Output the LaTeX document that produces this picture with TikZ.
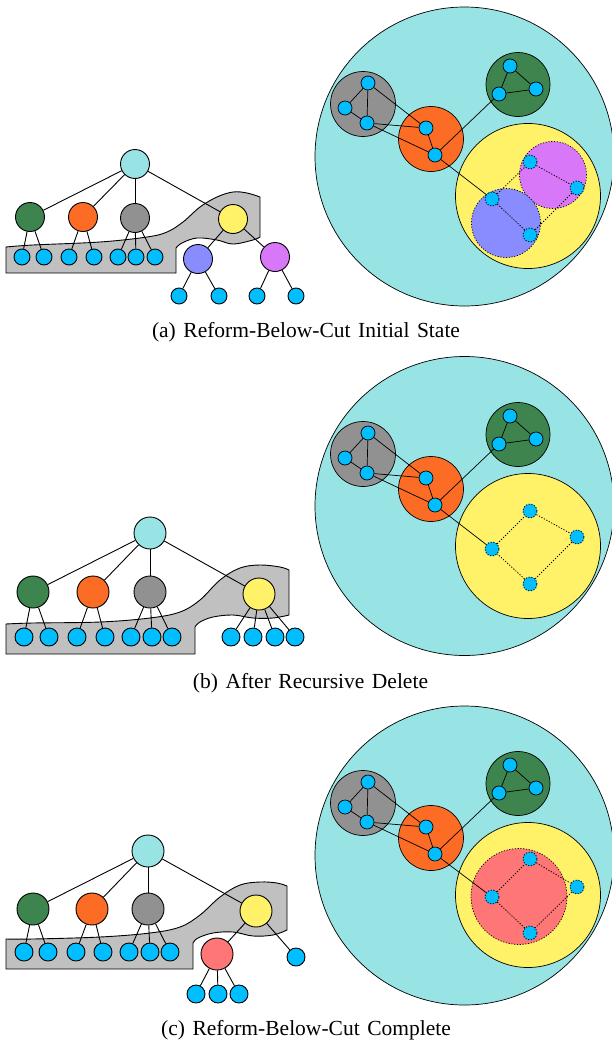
\documentclass[tikz,border=0pt]{standalone}
\usepackage{fontspec}
\setmainfont{Liberation Serif}
\definecolor{clcyan}{RGB}{152,227,227}
\definecolor{clgray}{RGB}{145,145,145}
\definecolor{clorange}{RGB}{252,108,36}
\definecolor{clgreen}{RGB}{61,132,78}
\definecolor{clyellow}{RGB}{255,242,104}
\definecolor{clpurple}{RGB}{216,120,248}
\definecolor{clblue}{RGB}{136,140,255}
\definecolor{clred}{RGB}{255,118,118}
\definecolor{clleaf}{RGB}{0,190,255}
\definecolor{clblob}{RGB}{192,192,192}
\newcommand{\capfont}{\fontsize{21.5}{25}\selectfont\spaceskip 0.35em\relax}

\begin{document}
\begin{tikzpicture}[x=1pt,y=-1pt,
  tnode/.style={circle,draw,line width=0.9pt,inner sep=0pt,minimum size=32pt},
  tleaf/.style={circle,draw,line width=0.9pt,fill=clleaf,inner sep=0pt,minimum size=18pt},
  tedge/.style={line width=0.9pt},
  blob/.style={draw,line width=0.9pt,fill=clblob},
  group/.style={circle,draw,line width=0.7pt,inner sep=0pt},
  dotline/.style={dash pattern=on 1.2pt off 1.6pt},
  vert/.style={circle,draw,line width=0.7pt,fill=clleaf,inner sep=0pt,minimum size=14pt},
  dvert/.style={vert,dotline,line width=0.8pt},
  gedge/.style={line width=0.7pt},
  dedge/.style={line width=0.8pt,dotline},
  capt/.style={anchor=base,font=\capfont}]

\useasboundingbox (0,0) rectangle (612,1044);

%%%%%%%%%%%%%%%%%%%% (a) %%%%%%%%%%%%%%%%%%%%
\begin{scope}[tnode/.append style={minimum size=29pt},tleaf/.append style={minimum size=16pt}]
% Draw the cut region
\draw[blob] (6,247) -- (6,273) -- (176,273) -- plot[smooth,tension=0.6] coordinates {(176,248) (182,243) (197,238) (217,240) (233,244) (253,240) (260,237)}
  -- plot[smooth,tension=0.6] coordinates {(260,197) (247,193) (233,192) (217,197) (200,207) (183,222) (167,232) (147,237) (100,242) (33,245) (6,247)} -- cycle;
% Draw the tree nodes
\node[tnode,fill=clcyan] (roota) at (135,164) {};
\node[tnode,fill=clgreen] (greena) at (30,217) {};
\node[tnode,fill=clorange] (orangea) at (83,217) {};
\node[tnode,fill=clgray] (graya) at (135,218) {};
\node[tnode,fill=clyellow] (yellowa) at (233,219) {};
\node[tnode,fill=clblue] (bluea) at (198,259) {};
\node[tnode,fill=clpurple] (purplea) at (275,257) {};
% Draw the leaves
\node[tleaf] (la1) at (22,257) {};
\node[tleaf] (la2) at (44,257) {};
\node[tleaf] (la3) at (69,257) {};
\node[tleaf] (la4) at (94,257) {};
\node[tleaf] (la5) at (118,257) {};
\node[tleaf] (la6) at (136,257) {};
\node[tleaf] (la7) at (155,257) {};
\node[tleaf] (la8) at (179,296) {};
\node[tleaf] (la9) at (219,296) {};
\node[tleaf] (la10) at (257,296) {};
\node[tleaf] (la11) at (296,296) {};
% Draw the tree edges
\draw[tedge] (roota) -- (greena);
\draw[tedge] (roota) -- (orangea);
\draw[tedge] (roota) -- (graya);
\draw[tedge] (roota) -- (yellowa);
\draw[tedge] (greena) -- (la1);
\draw[tedge] (greena) -- (la2);
\draw[tedge] (orangea) -- (la3);
\draw[tedge] (orangea) -- (la4);
\draw[tedge] (graya) -- (la5);
\draw[tedge] (graya) -- (la6);
\draw[tedge] (graya) -- (la7);
\draw[tedge] (yellowa) -- (bluea);
\draw[tedge] (yellowa) -- (purplea);
\draw[tedge] (bluea) -- (la8);
\draw[tedge] (bluea) -- (la9);
\draw[tedge] (purplea) -- (la10);
\draw[tedge] (purplea) -- (la11);
\end{scope}

% Draw the clusters
\node[group,fill=clcyan,minimum size=299pt] (topa) at (464.5,156.5) {};
\node[group,fill=clgray,minimum size=65pt] (cgraya) at (363,104) {};
\node[group,fill=clorange,minimum size=65pt] (corangea) at (431,139) {};
\node[group,fill=clgreen,minimum size=64pt] (cgreena) at (518,84.5) {};
\node[group,fill=clyellow,minimum size=145pt] (cyellowa) at (528,196) {};
\node[group,dotline,fill=clpurple,minimum size=67pt] (cpurplea) at (553,175) {};
\node[group,dotline,fill=clblue,minimum size=69pt] (cbluea) at (506,223) {};
% Draw the vertices
\node[vert] (g1a) at (368,83) {};
\node[vert] (g2a) at (345,108) {};
\node[vert] (g3a) at (367,123) {};
\node[vert] (o1a) at (426,128) {};
\node[vert] (o2a) at (435,155) {};
\node[vert] (n1a) at (510,66) {};
\node[vert] (n2a) at (536,89) {};
\node[vert] (n3a) at (499,94) {};
\node[dvert] (y1a) at (492,199) {};
\node[dvert] (y2a) at (530,162) {};
\node[dvert] (y3a) at (577,188) {};
\node[dvert] (y4a) at (530,235) {};
% Draw the graph edges
\draw[gedge] (g1a) -- (g2a);
\draw[gedge] (g1a) -- (g3a);
\draw[gedge] (g2a) -- (g3a);
\draw[gedge] (g1a) -- (o1a);
\draw[gedge] (g3a) -- (o1a);
\draw[gedge] (g3a) -- (o2a);
\draw[gedge] (o1a) -- (o2a);
\draw[gedge] (o2a) -- (n3a);
\draw[gedge] (n1a) -- (n2a);
\draw[gedge] (n2a) -- (n3a);
\draw[gedge] (n3a) -- (n1a);
\draw[gedge] (o2a) -- (y1a);
\draw[dedge] (y1a) -- (y2a);
\draw[dedge] (y2a) -- (y3a);
\draw[dedge] (y3a) -- (y4a);
\draw[dedge] (y4a) -- (y1a);

\node[capt] (capa) at (306,337.5) {(a) Reform-Below-Cut Initial State};

%%%%%%%%%%%%%%%%%%%% (b) %%%%%%%%%%%%%%%%%%%%
% Draw the cut region
\draw[blob] (6,624) -- (6,654) -- (195,654) -- plot[smooth,tension=0.6] coordinates {(195,627) (200,622) (213,617) (233,615) (253,618) (273,618) (289,615)}
  -- plot[smooth,tension=0.6] coordinates {(289,570) (280,567) (260,565) (240,568) (220,580) (200,600) (180,612) (150,618) (100,622) (33,623) (6,624)} -- cycle;
% Draw the tree nodes
\node[tnode,fill=clcyan] (rootb) at (150,533) {};
\node[tnode,fill=clgreen] (greenb) at (33,592) {};
\node[tnode,fill=clorange] (orangeb) at (93,592) {};
\node[tnode,fill=clgray] (grayb) at (150,592) {};
\node[tnode,fill=clyellow] (yellowb) at (259,594) {};
% Draw the leaves
\node[tleaf] (lb1) at (24,637) {};
\node[tleaf] (lb2) at (49,637) {};
\node[tleaf] (lb3) at (77,637) {};
\node[tleaf] (lb4) at (105,637) {};
\node[tleaf] (lb5) at (131,637) {};
\node[tleaf] (lb6) at (152,637) {};
\node[tleaf] (lb7) at (172,637) {};
\node[tleaf] (lb8) at (231,637) {};
\node[tleaf] (lb9) at (253,637) {};
\node[tleaf] (lb10) at (275,637) {};
\node[tleaf] (lb11) at (295,637) {};
% Draw the tree edges
\draw[tedge] (rootb) -- (greenb);
\draw[tedge] (rootb) -- (orangeb);
\draw[tedge] (rootb) -- (grayb);
\draw[tedge] (rootb) -- (yellowb);
\draw[tedge] (greenb) -- (lb1);
\draw[tedge] (greenb) -- (lb2);
\draw[tedge] (orangeb) -- (lb3);
\draw[tedge] (orangeb) -- (lb4);
\draw[tedge] (grayb) -- (lb5);
\draw[tedge] (grayb) -- (lb6);
\draw[tedge] (grayb) -- (lb7);
\draw[tedge] (yellowb) -- (lb8);
\draw[tedge] (yellowb) -- (lb9);
\draw[tedge] (yellowb) -- (lb10);
\draw[tedge] (yellowb) -- (lb11);

% Draw the clusters
\node[group,fill=clcyan,minimum size=299pt] (topb) at (464.5,506) {};
\node[group,fill=clgray,minimum size=65pt] (cgrayb) at (363,454) {};
\node[group,fill=clorange,minimum size=65pt] (corangeb) at (431,489) {};
\node[group,fill=clgreen,minimum size=64pt] (cgreenb) at (518,434.5) {};
\node[group,fill=clyellow,minimum size=145pt] (cyellowb) at (528,546) {};
% Draw the vertices
\node[vert] (g1b) at (368,433) {};
\node[vert] (g2b) at (345,458) {};
\node[vert] (g3b) at (367,473) {};
\node[vert] (o1b) at (426,478) {};
\node[vert] (o2b) at (435,505) {};
\node[vert] (n1b) at (510,416) {};
\node[vert] (n2b) at (536,439) {};
\node[vert] (n3b) at (499,444) {};
\node[dvert] (y1b) at (492,549) {};
\node[dvert] (y2b) at (530,511) {};
\node[dvert] (y3b) at (577,537) {};
\node[dvert] (y4b) at (530,584) {};
% Draw the graph edges
\draw[gedge] (g1b) -- (g2b);
\draw[gedge] (g1b) -- (g3b);
\draw[gedge] (g2b) -- (g3b);
\draw[gedge] (g1b) -- (o1b);
\draw[gedge] (g3b) -- (o1b);
\draw[gedge] (g3b) -- (o2b);
\draw[gedge] (o1b) -- (o2b);
\draw[gedge] (o2b) -- (n3b);
\draw[gedge] (n1b) -- (n2b);
\draw[gedge] (n2b) -- (n3b);
\draw[gedge] (n3b) -- (n1b);
\draw[gedge] (o2b) -- (y1b);
\draw[dedge] (y1b) -- (y2b);
\draw[dedge] (y2b) -- (y3b);
\draw[dedge] (y3b) -- (y4b);
\draw[dedge] (y4b) -- (y1b);

\node[capt] (capb) at (310.5,688.7) {(b) After Recursive Delete};

%%%%%%%%%%%%%%%%%%%% (c) %%%%%%%%%%%%%%%%%%%%
% Draw the cut region
\draw[blob] (6,939) -- (6,969) -- (193,969) -- plot[smooth,tension=0.6] coordinates {(193,943) (198,938) (213,933) (233,932) (253,936) (273,935) (287,930)}
  -- plot[smooth,tension=0.6] coordinates {(287,886) (277,883) (260,882) (240,885) (220,897) (200,915) (180,927) (150,933) (100,937) (33,939) (6,939)} -- cycle;
% Draw the tree nodes
\node[tnode,fill=clcyan] (rootc) at (148,851) {};
\node[tnode,fill=clgreen] (greenc) at (33,909) {};
\node[tnode,fill=clorange] (orangec) at (92,909) {};
\node[tnode,fill=clgray] (grayc) at (148,909) {};
\node[tnode,fill=clyellow] (yellowc) at (256,911) {};
\node[tnode,fill=clred] (redc) at (217,954) {};
% Draw the leaves
\node[tleaf] (lc1) at (24,952) {};
\node[tleaf] (lc2) at (48,952) {};
\node[tleaf] (lc3) at (76,952) {};
\node[tleaf] (lc4) at (103,952) {};
\node[tleaf] (lc5) at (129,952) {};
\node[tleaf] (lc6) at (150,952) {};
\node[tleaf] (lc7) at (170,952) {};
\node[tleaf] (lc8) at (196,994) {};
\node[tleaf] (lc9) at (218,994) {};
\node[tleaf] (lc10) at (239,994) {};
\node[tleaf] (lc11) at (296,957) {};
% Draw the tree edges
\draw[tedge] (rootc) -- (greenc);
\draw[tedge] (rootc) -- (orangec);
\draw[tedge] (rootc) -- (grayc);
\draw[tedge] (rootc) -- (yellowc);
\draw[tedge] (greenc) -- (lc1);
\draw[tedge] (greenc) -- (lc2);
\draw[tedge] (orangec) -- (lc3);
\draw[tedge] (orangec) -- (lc4);
\draw[tedge] (grayc) -- (lc5);
\draw[tedge] (grayc) -- (lc6);
\draw[tedge] (grayc) -- (lc7);
\draw[tedge] (yellowc) -- (redc);
\draw[tedge] (yellowc) -- (lc11);
\draw[tedge] (redc) -- (lc8);
\draw[tedge] (redc) -- (lc9);
\draw[tedge] (redc) -- (lc10);

% Draw the clusters
\node[group,fill=clcyan,minimum size=299pt] (topc) at (464.5,855.5) {};
\node[group,fill=clgray,minimum size=65pt] (cgrayc) at (363,803) {};
\node[group,fill=clorange,minimum size=65pt] (corangec) at (431,838) {};
\node[group,fill=clgreen,minimum size=64pt] (cgreenc) at (518,783.5) {};
\node[group,fill=clyellow,minimum size=145pt] (cyellowc) at (528,895) {};
\node[group,dotline,fill=clred,minimum size=96pt] (credc) at (519,896.5) {};
% Draw the vertices
\node[vert] (g1c) at (368,782) {};
\node[vert] (g2c) at (345,807) {};
\node[vert] (g3c) at (367,822) {};
\node[vert] (o1c) at (426,827) {};
\node[vert] (o2c) at (435,854) {};
\node[vert] (n1c) at (510,765) {};
\node[vert] (n2c) at (536,788) {};
\node[vert] (n3c) at (499,793) {};
\node[dvert] (y1c) at (492,897) {};
\node[dvert] (y2c) at (530,859) {};
\node[dvert] (y3c) at (577,887) {};
\node[dvert] (y4c) at (530,933) {};
% Draw the graph edges
\draw[gedge] (g1c) -- (g2c);
\draw[gedge] (g1c) -- (g3c);
\draw[gedge] (g2c) -- (g3c);
\draw[gedge] (g1c) -- (o1c);
\draw[gedge] (g3c) -- (o1c);
\draw[gedge] (g3c) -- (o2c);
\draw[gedge] (o1c) -- (o2c);
\draw[gedge] (o2c) -- (n3c);
\draw[gedge] (n1c) -- (n2c);
\draw[gedge] (n2c) -- (n3c);
\draw[gedge] (n3c) -- (n1c);
\draw[gedge] (o2c) -- (y1c);
\draw[dedge] (y1c) -- (y2c);
\draw[dedge] (y2c) -- (y3c);
\draw[dedge] (y3c) -- (y4c);
\draw[dedge] (y4c) -- (y1c);

\node[capt] (capc) at (306,1035.7) {(c) Reform-Below-Cut Complete};

\end{tikzpicture}
\end{document}
